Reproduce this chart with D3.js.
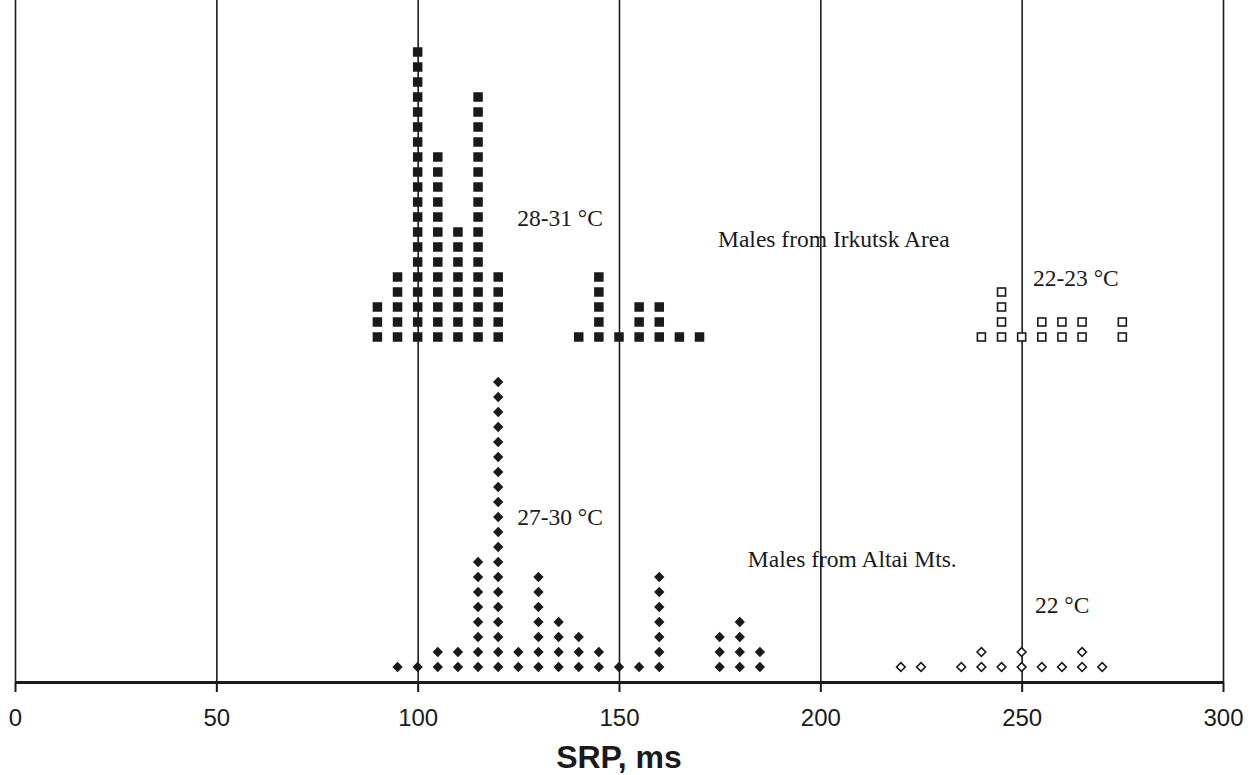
<!DOCTYPE html>
<html>
<head>
<meta charset="utf-8">
<script src="https://cdn.jsdelivr.net/npm/d3@7"></script>
<style>
  html, body { margin: 0; padding: 0; background: #fff; }
  svg { display: block; }
</style>
</head>
<body>
<svg id="chart" width="1255" height="775"></svg>
<script>
// SRP values (ms) grouped in 5 ms bins, and the number of males in each bin
const irkutskWarmBins   = [90, 95, 100, 105, 110, 115, 120, 140, 145, 150, 155, 160, 165, 170];
const irkutskWarmCounts = [3, 5, 20, 13, 8, 17, 5, 1, 5, 1, 3, 3, 1, 1];

const irkutskCoolBins   = [240, 245, 250, 255, 260, 265, 275];
const irkutskCoolCounts = [1, 4, 1, 2, 2, 2, 2];

const altaiWarmBins   = [95, 100, 105, 110, 115, 120, 125, 130, 135, 140, 145, 150, 155, 160, 175, 180, 185];
const altaiWarmCounts = [1, 1, 2, 2, 8, 20, 2, 7, 4, 3, 2, 1, 1, 7, 3, 4, 2];

const altaiCoolBins   = [220, 225, 235, 240, 245, 250, 255, 260, 265, 270];
const altaiCoolCounts = [1, 1, 1, 2, 1, 2, 1, 1, 2, 1];

const xTicks = [0, 50, 100, 150, 200, 250, 300];
const xTitle = "SRP, ms";

const annotations = [
  { text: "28-31 °C", x: 124.7, level: 30.4 },
  { text: "Males from Irkutsk Area", x: 174.6, level: 29.0 },
  { text: "22-23 °C", x: 252.8, level: 26.4 },
  { text: "27-30 °C", x: 124.7, level: 10.5 },
  { text: "Males from Altai Mts.", x: 182, level: 7.7 },
  { text: "22 °C", x: 253.3, level: 4.6 }
];

// ---- layout ----
const svg = d3.select("#chart");
const plotLeft = 15, plotRight = 1223, axisY = 682, plotTop = 0;
const levelPx = 15;
const upperRowBase = 22;   // Irkutsk rows are stacked above the Altai rows

const x = d3.scaleLinear().domain([0, 300]).range([plotLeft, plotRight]);
const y = d3.scaleLinear().domain([0, (axisY - plotTop) / levelPx]).range([axisY, plotTop]);

// vertical grid lines
svg.append("g")
  .attr("transform", `translate(0,${axisY})`)
  .call(d3.axisBottom(x).tickValues(xTicks).tickSize(-(axisY - plotTop)).tickFormat(""))
  .call(g => g.select(".domain").remove())
  .call(g => g.selectAll(".tick line").attr("stroke", "#1e1e1e").attr("stroke-width", 1.6));

// expand bins/counts into stacked points
function stack(bins, counts, base) {
  const pts = [];
  bins.forEach((b, i) => {
    for (let k = 1; k <= counts[i]; k++) pts.push({ v: b, level: base + k });
  });
  return pts;
}

const sq = 9.5, sqOpen = 8;
// Irkutsk, 28-31 °C : filled squares
svg.append("g").selectAll("rect")
  .data(stack(irkutskWarmBins, irkutskWarmCounts, upperRowBase))
  .join("rect")
  .attr("x", d => x(d.v) - sq / 2)
  .attr("y", d => y(d.level) - sq / 2)
  .attr("width", sq).attr("height", sq)
  .attr("fill", "#1a1a1a");

// Irkutsk, 22-23 °C : open squares
svg.append("g").selectAll("rect")
  .data(stack(irkutskCoolBins, irkutskCoolCounts, upperRowBase))
  .join("rect")
  .attr("x", d => x(d.v) - sqOpen / 2)
  .attr("y", d => y(d.level) - sqOpen / 2)
  .attr("width", sqOpen).attr("height", sqOpen)
  .attr("fill", "#fff").attr("stroke", "#1a1a1a").attr("stroke-width", 1.6);

const diamond = d3.symbol().type(d3.symbolDiamond2);
// Altai, 27-30 °C : filled diamonds
svg.append("g").selectAll("path")
  .data(stack(altaiWarmBins, altaiWarmCounts, 0))
  .join("path")
  .attr("transform", d => `translate(${x(d.v)},${y(d.level)})`)
  .attr("d", diamond.size(68))
  .attr("fill", "#1a1a1a");

// Altai, 22 °C : open diamonds
svg.append("g").selectAll("path")
  .data(stack(altaiCoolBins, altaiCoolCounts, 0))
  .join("path")
  .attr("transform", d => `translate(${x(d.v)},${y(d.level)})`)
  .attr("d", diamond.size(48))
  .attr("fill", "#fff").attr("stroke", "#1a1a1a").attr("stroke-width", 1.6);

// x axis
svg.append("g")
  .attr("transform", `translate(0,${axisY})`)
  .call(d3.axisBottom(x).tickValues(xTicks).tickSize(10).tickSizeOuter(0).tickPadding(17))
  .call(g => g.select(".domain").attr("stroke", "#1a1a1a").attr("stroke-width", 3.2))
  .call(g => g.selectAll(".tick line").attr("stroke", "#1a1a1a").attr("stroke-width", 2))
  .call(g => g.selectAll(".tick text")
    .attr("fill", "#1a1a1a")
    .style("font-family", "'Liberation Sans', Arial, sans-serif")
    .style("font-size", "24px"));

svg.append("text")
  .attr("x", x(150))
  .attr("y", 768)
  .attr("text-anchor", "middle")
  .style("font-family", "'Liberation Sans', Arial, sans-serif")
  .style("font-size", "32px")
  .style("font-weight", "bold")
  .attr("fill", "#1a1a1a")
  .text(xTitle);

// in-plot annotations
svg.append("g").selectAll("text")
  .data(annotations)
  .join("text")
  .attr("x", d => x(d.x))
  .attr("y", d => y(d.level))
  .style("font-family", "'Liberation Serif', 'Times New Roman', serif")
  .style("font-size", "23.5px")
  .attr("fill", "#1a1a1a")
  .text(d => d.text);
</script>
</body>
</html>
